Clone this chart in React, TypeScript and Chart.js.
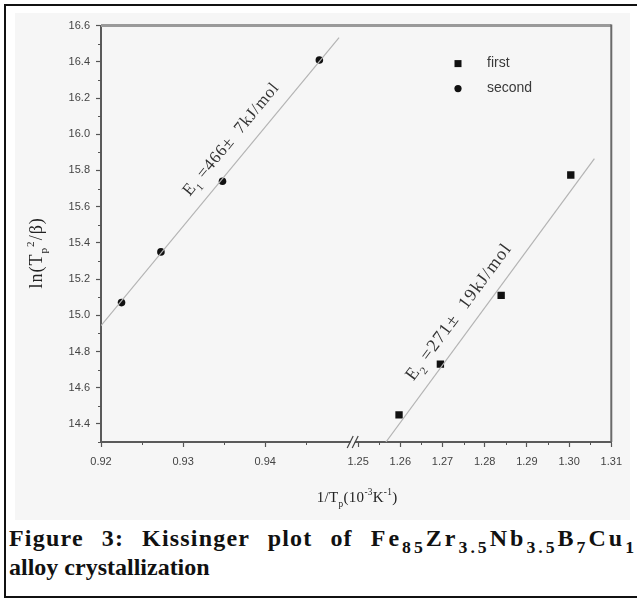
import React, { useEffect, useRef } from 'react';
import { Chart, registerables } from 'chart.js';

Chart.register(...registerables);

// ---- data ----
const SECOND_X = [0.9225, 0.9273, 0.9348, 0.9466];
const SECOND_Y = [15.07, 15.35, 15.74, 16.41];
const FIRST_X = [1.2597, 1.2695, 1.2839, 1.3004];
const FIRST_Y = [14.45, 14.73, 15.11, 15.775];
const FIT_SECOND_X = [0.92, 0.949];
const FIT_SECOND_Y = [14.943, 16.534];
const FIT_FIRST_X = [1.2566, 1.306];
const FIT_FIRST_Y = [14.3, 15.865];

const Y_RANGE = [14.3, 16.6];
const XL_RANGE = [0.92, 0.9506];
const XR_RANGE = [1.2486, 1.31];
const Y_TICKS = [14.4, 14.6, 14.8, 15.0, 15.2, 15.4, 15.6, 15.8, 16.0, 16.2, 16.4, 16.6];
const Y_MINOR = [14.3, 14.5, 14.7, 14.9, 15.1, 15.3, 15.5, 15.7, 15.9, 16.1, 16.3, 16.5];
const XL_TICKS = [0.92, 0.93, 0.94];
const XL_MINOR = [0.925, 0.935, 0.945];
const XR_TICKS = [1.25, 1.26, 1.27, 1.28, 1.29, 1.3, 1.31];
const XR_MINOR = [1.255, 1.265, 1.275, 1.285, 1.295, 1.305];

const SERIES_NAMES = ['first', 'second'];

const SERIF = '"Liberation Serif", "Times New Roman", serif';
const SANS_N = '"Liberation Sans Narrow", "Liberation Sans", Arial, sans-serif';
const SANS = '"Liberation Sans", Arial, sans-serif';

type Seg = [string, 'n' | 'sub' | 'sup'];

function drawRich(
  ctx: CanvasRenderingContext2D,
  segs: Seg[],
  x: number,
  y: number,
  size: number,
  family: string,
  spacing = 0
) {
  (ctx as any).letterSpacing = `${spacing}px`;
  const parts = segs.map(([t, k]) => {
    const fs = k === 'n' ? size : size * 0.62;
    ctx.font = `${fs}px ${family}`;
    return { t, k, fs, w: ctx.measureText(t).width };
  });
  const total = parts.reduce((a, p) => a + p.w, 0);
  let cx = x - total / 2;
  ctx.textAlign = 'left';
  ctx.textBaseline = 'alphabetic';
  for (const p of parts) {
    ctx.font = `${p.fs}px ${family}`;
    const dy = p.k === 'sub' ? size * 0.3 : p.k === 'sup' ? -size * 0.45 : 0;
    ctx.fillText(p.t, cx, y + dy);
    cx += p.w;
  }
  (ctx as any).letterSpacing = '0px';
}

const decorPlugin = {
  id: 'decor',
  afterDraw(chart: any) {
    const ctx: CanvasRenderingContext2D = chart.ctx;
    const { left, right, top, bottom } = chart.chartArea;
    const xL = chart.scales.xL;
    const xR = chart.scales.xR;
    const y = chart.scales.y;
    ctx.save();
    // frame top / right
    ctx.strokeStyle = '#9a9a9a';
    ctx.lineWidth = 3;
    ctx.beginPath();
    ctx.moveTo(left, top);
    ctx.lineTo(right, top);
    ctx.stroke();
    ctx.strokeStyle = '#6a6a6a';
    ctx.lineWidth = 2;
    ctx.beginPath();
    ctx.moveTo(right, top - 1);
    ctx.lineTo(right, bottom);
    ctx.stroke();

    // minor ticks
    ctx.strokeStyle = '#555';
    ctx.lineWidth = 1;
    ctx.beginPath();
    for (const v of Y_MINOR) {
      const py = Math.round(y.getPixelForValue(v)) + 0.5;
      ctx.moveTo(left - 3, py);
      ctx.lineTo(left, py);
    }
    for (const v of XL_MINOR) {
      const px = Math.round(xL.getPixelForValue(v)) + 0.5;
      ctx.moveTo(px, bottom);
      ctx.lineTo(px, bottom + 3);
    }
    for (const v of XR_MINOR) {
      const px = Math.round(xR.getPixelForValue(v)) + 0.5;
      ctx.moveTo(px, bottom);
      ctx.lineTo(px, bottom + 3);
    }
    ctx.stroke();

    // axis break
    const bx = xL.right + 2;
    ctx.fillStyle = '#f6f6f6';
    ctx.beginPath();
    ctx.moveTo(bx - 6, bottom + 5);
    ctx.lineTo(bx - 1, bottom - 5);
    ctx.lineTo(bx + 3, bottom - 5);
    ctx.lineTo(bx - 2, bottom + 5);
    ctx.closePath();
    ctx.fill();
    ctx.strokeStyle = '#444';
    ctx.lineWidth = 1.2;
    ctx.beginPath();
    ctx.moveTo(bx - 7, bottom + 6);
    ctx.lineTo(bx - 1, bottom - 6);
    ctx.moveTo(bx - 2, bottom + 6);
    ctx.lineTo(bx + 4, bottom - 6);
    ctx.stroke();

    // rotated annotations
    ctx.fillStyle = '#333';
    const ann = [
      { sx: xL, x: 0.93578, y: 15.975, ang: -50.4, size: 17, sp: 0.8, segs: [['E', 'n'], ['1', 'sub'], [' =466\u00b1  7kJ/mol', 'n']] as Seg[] },
      { sx: xR, x: 1.27376, y: 15.02, ang: -53.5, size: 18, sp: 1.2, segs: [['E', 'n'], ['2', 'sub'], [' =271\u00b1  19kJ/mol', 'n']] as Seg[] },
    ];
    for (const a of ann) {
      ctx.save();
      ctx.translate(a.sx.getPixelForValue(a.x), y.getPixelForValue(a.y));
      ctx.rotate((a.ang * Math.PI) / 180);
      drawRich(ctx, a.segs, 0, 5.5, a.size, SERIF, a.sp);
      ctx.restore();
    }

    // legend
    const lx = left + 357;
    const ly1 = top + 38;
    const ly2 = top + 63;
    ctx.fillStyle = '#111';
    ctx.fillRect(lx - 3.5, ly1 - 3.5, 7, 7);
    ctx.beginPath();
    ctx.arc(lx, ly2, 3.6, 0, Math.PI * 2);
    ctx.fill();
    ctx.fillStyle = '#3a3a3a';
    ctx.font = `14px ${SANS}`;
    ctx.textAlign = 'left';
    ctx.textBaseline = 'middle';
    ctx.fillText(SERIES_NAMES[0], lx + 29, ly1);
    ctx.fillText(SERIES_NAMES[1], lx + 29, ly2);

    // axis titles
    ctx.fillStyle = '#222';
    drawRich(
      ctx,
      [['1/T', 'n'], ['p', 'sub'], ['(10', 'n'], ['-3', 'sup'], ['K', 'n'], ['-1', 'sup'], [')', 'n']],
      (left + right) / 2 + 1,
      bottom + 60,
      15,
      SERIF,
      0.3
    );
    ctx.save();
    ctx.translate(22, (top + bottom) / 2 + 19);
    ctx.rotate(-Math.PI / 2);
    drawRich(ctx, [['ln(T', 'n'], ['p', 'sub'], ['2', 'sup'], ['/\u03b2)', 'n']], 0, 5, 18, SERIF, 1);
    ctx.restore();
    ctx.restore();
  },
};

function xScale(range: number[], ticks: number[], weight: number) {
  return {
    type: 'linear',
    position: 'bottom',
    stack: 'xs',
    stackWeight: weight,
    min: range[0],
    max: range[1],
    afterBuildTicks: (s: any) => {
      s.ticks = ticks.map((v) => ({ value: v }));
    },
    afterFit: (s: any) => {
      s.height = 78;
    },
    grid: { display: true, drawOnChartArea: false, drawTicks: true, tickLength: 5, tickColor: '#555', tickWidth: 1.2 },
    border: { display: true, color: '#5a5a5a', width: 2 },
    ticks: {
      autoSkip: false,
      maxRotation: 0,
      padding: 8,
      color: '#444',
      font: { family: SANS_N, size: 11 },
      callback: (v: any) => Number(v).toFixed(2),
    },
  };
}

export default function App() {
  const ref = useRef<HTMLCanvasElement>(null);
  useEffect(() => {
    if (!ref.current) return;
    const chart = new Chart(ref.current, {
      type: 'scatter',
      data: {
        datasets: [
          {
            type: 'line',
            label: 'fitSecond',
            data: FIT_SECOND_X.map((x, i) => ({ x, y: FIT_SECOND_Y[i] })),
            xAxisID: 'xL',
            yAxisID: 'y',
            borderColor: '#b4b4b4',
            borderWidth: 1.2,
            pointRadius: 0,
            fill: false,
          },
          {
            type: 'line',
            label: 'fitFirst',
            data: FIT_FIRST_X.map((x, i) => ({ x, y: FIT_FIRST_Y[i] })),
            xAxisID: 'xR',
            yAxisID: 'y',
            borderColor: '#b4b4b4',
            borderWidth: 1.2,
            pointRadius: 0,
            fill: false,
          },
          {
            label: SERIES_NAMES[1],
            data: SECOND_X.map((x, i) => ({ x, y: SECOND_Y[i] })),
            xAxisID: 'xL',
            yAxisID: 'y',
            pointStyle: 'circle',
            pointRadius: 3.8,
            backgroundColor: '#111',
            borderWidth: 0,
          },
          {
            label: SERIES_NAMES[0],
            data: FIRST_X.map((x, i) => ({ x, y: FIRST_Y[i] })),
            xAxisID: 'xR',
            yAxisID: 'y',
            pointStyle: 'rect',
            pointRadius: 5.2,
            backgroundColor: '#111',
            borderWidth: 0,
          },
        ],
      } as any,
      options: {
        animation: false,
        responsive: false,
        devicePixelRatio: 1,
        layout: { padding: { left: 0, top: 10, right: 13, bottom: 0 } },
        plugins: { legend: { display: false }, tooltip: { enabled: false }, title: { display: false } },
        scales: {
          xL: xScale(XL_RANGE, XL_TICKS, 254),
          xR: xScale(XR_RANGE, XR_TICKS, 262),
          y: {
            type: 'linear',
            position: 'left',
            min: Y_RANGE[0],
            max: Y_RANGE[1],
            afterBuildTicks: (s: any) => {
              s.ticks = Y_TICKS.map((v) => ({ value: v }));
            },
            afterFit: (s: any) => {
              s.width = 86;
            },
            grid: { display: true, drawOnChartArea: false, drawTicks: true, tickLength: 5, tickColor: '#555', tickWidth: 1.2 },
            border: { display: true, color: '#5a5a5a', width: 2 },
            ticks: {
              padding: 6,
              color: '#444',
              font: { family: SANS_N, size: 11 },
              callback: (v: any) => Number(v).toFixed(1),
            },
          },
        } as any,
      },
      plugins: [decorPlugin],
    });
    return () => chart.destroy();
  }, []);

  const sub: React.CSSProperties = { fontSize: '0.74em', verticalAlign: '-0.38em', lineHeight: 0 };

  return (
    <div style={{ position: 'fixed', left: 0, top: 0, width: 637, height: 602, overflow: 'hidden', background: '#fff' }}>
      <div
        style={{
          position: 'absolute',
          left: 4,
          top: 4,
          width: 641,
          height: 594,
          border: '2px solid #111',
          boxSizing: 'border-box',
          background: '#fff',
        }}
      >
        <canvas
          ref={ref}
          width={615}
          height={507}
          style={{ position: 'absolute', left: 9, top: 7, width: 615, height: 507, background: '#f6f6f6' }}
        />
        <div
          style={{
            position: 'absolute',
            left: 3,
            top: 520,
            width: 628,
            fontFamily: SERIF,
            fontWeight: 'bold',
            fontSize: 24,
            lineHeight: '24px',
            letterSpacing: '1.2px',
            wordSpacing: '2px',
            color: '#111',
            textAlign: 'justify',
            textAlignLast: 'justify' as any,
          }}
        >
          Figure 3: Kissinger plot of{' '}
          <span style={{ letterSpacing: '3px' }}>
            Fe<sub style={sub}>85</sub>Zr<sub style={sub}>3.5</sub>Nb<sub style={sub}>3.5</sub>B<sub style={sub}>7</sub>Cu<sub style={sub}>1</sub>
          </span>
        </div>
        <div
          style={{
            position: 'absolute',
            left: 3,
            top: 549,
            fontFamily: SERIF,
            fontWeight: 'bold',
            fontSize: 24,
            lineHeight: '24px',
            color: '#111',
            whiteSpace: 'nowrap',
          }}
        >
          alloy crystallization
        </div>
      </div>
    </div>
  );
}
